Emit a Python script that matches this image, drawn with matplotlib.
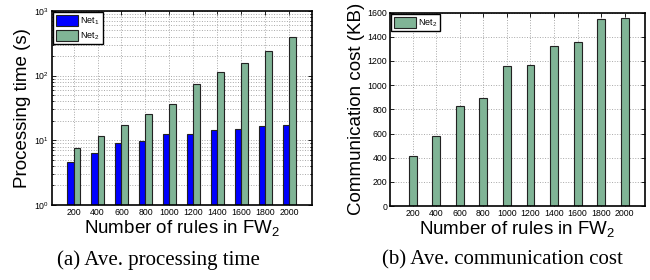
import numpy as np
import matplotlib
matplotlib.use("Agg")
import matplotlib.pyplot as plt
from matplotlib.ticker import LogLocator, NullFormatter

plt.rcParams['font.family'] = ['Liberation Sans', 'DejaVu Sans']
plt.rcParams['mathtext.fontset'] = 'custom'
plt.rcParams['mathtext.rm'] = 'Liberation Sans'
plt.rcParams['mathtext.it'] = 'Liberation Sans:italic'

# data
rules = ['200', '400', '600', '800', '1000', '1200', '1400', '1600', '1800', '2000']
time_net1 = [4.6, 6.3, 9.1, 9.7, 12.6, 12.7, 14.3, 15.0, 16.9, 17.0]
time_net2 = [7.5, 11.8, 17.0, 25.8, 36.0, 75.0, 114.0, 155.0, 244.0, 392.0]
comm_net2 = [414, 582, 830, 895, 1160, 1170, 1320, 1360, 1545, 1555]

blue = '#0000ff'
green = '#80b496'
grid_kw = dict(color='#a8a8a8', linestyle=':', linewidth=0.7)

fig = plt.figure(figsize=(6.5, 2.8), dpi=100)
ax1 = fig.add_axes([0.08, 0.268, 0.40, 0.693])
ax2 = fig.add_axes([0.60, 0.264, 0.392, 0.691])

x = np.arange(1, len(rules) + 1)


def style(ax):
    for s in ax.spines.values():
        s.set_linewidth(1.2)
        s.set_color('black')
    ax.tick_params(axis='both', which='both', direction='in', top=True, right=True,
                   labelsize=6.3, pad=2, width=0.6)
    ax.tick_params(axis='both', which='major', length=3)
    ax.tick_params(axis='both', which='minor', length=1.5)
    ax.set_xticks(x)
    ax.set_xticklabels(rules)
    ax.set_axisbelow(True)


# (a) processing time
w = 0.27
ax1.bar(x - w / 2, time_net1, w, color=blue, edgecolor='#222222', linewidth=0.8,
        label='Net$_1$')
ax1.bar(x + w / 2, time_net2, w, color=green, edgecolor='#222222', linewidth=0.8,
        label='Net$_2$')
ax1.set_yscale('log')
ax1.set_ylim(1, 1000)
ax1.set_xlim(0.1, 10.95)
ax1.yaxis.set_major_locator(LogLocator(base=10, numticks=5))
ax1.yaxis.set_minor_locator(LogLocator(base=10, subs=np.arange(2, 10), numticks=10))
ax1.yaxis.set_minor_formatter(NullFormatter())
ax1.grid(True, which='major', axis='both', **grid_kw)
ax1.grid(True, which='minor', axis='y', **grid_kw)
style(ax1)
ax1.set_ylabel('Processing time (s)', fontsize=13.5, labelpad=2)
ax1.set_xlabel('Number of rules in FW$_2$', fontsize=13.5, labelpad=1)
leg = ax1.legend(loc='upper left', fontsize=6.5, handlelength=2.4, handleheight=1.5,
                 borderaxespad=0.15, borderpad=0.3, labelspacing=0.3, handletextpad=0.3,
                 fancybox=False, edgecolor='black', framealpha=1)
leg.get_frame().set_linewidth(1.0)

# (b) communication cost
w2 = 0.33
ax2.bar(x, comm_net2, w2, color=green, edgecolor='#222222', linewidth=0.8, label='Net$_2$')
ax2.set_ylim(0, 1600)
ax2.set_xlim(0.04, 10.85)
ax2.set_yticks(np.arange(0, 1601, 200))
ax2.grid(True, which='major', axis='both', **grid_kw)
style(ax2)
ax2.set_ylabel('Communication cost (KB)', fontsize=13.5, labelpad=2)
ax2.set_xlabel('Number of rules in FW$_2$', fontsize=13.5, labelpad=1)
leg2 = ax2.legend(loc='upper left', fontsize=6.5, handlelength=2.4, handleheight=1.5,
                  borderaxespad=0.15, borderpad=0.3, handletextpad=0.3,
                  fancybox=False, edgecolor='black', framealpha=1)
leg2.get_frame().set_linewidth(1.0)

# captions
fig.text(158 / 650, 1 - 260 / 280, '(a) Ave. processing time', family='Liberation Serif',
         fontsize=15, ha='center', va='center')
fig.text(502 / 650, 1 - 260 / 280, '(b) Ave. communication cost', family='Liberation Serif',
         fontsize=15, ha='center', va='center')

fig.savefig('out.png', dpi=100)
